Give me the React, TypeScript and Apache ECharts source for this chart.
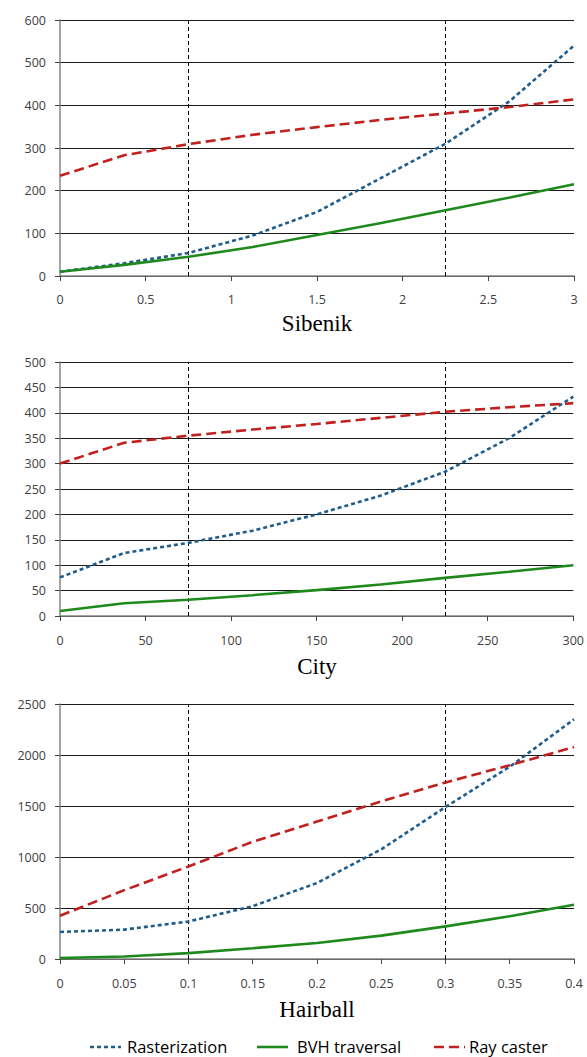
import React, { useEffect, useRef } from "react";
import * as echarts from "echarts";

const seriesNames = ["Rasterization", "BVH traversal", "Ray caster"];
const panelTitles = ["Sibenik", "City", "Hairball"];

const sibenikX = [0, 0.375, 0.75, 1.125, 1.5, 1.875, 2.25, 2.625, 3];
const sibenikRaster = [10, 30, 54, 95, 150, 230, 310, 410, 540];
const sibenikBVH = [10, 26, 45, 68, 96, 124, 154, 184, 215];
const sibenikRay = [235, 283, 309, 331, 349, 366, 381, 396, 414];
const sibenikMarks = [0.75, 2.25];

const cityX = [0, 37.5, 75, 112.5, 150, 187.5, 225, 262.5, 300];
const cityRaster = [76, 124, 144, 168, 200, 237, 284, 350, 432];
const cityBVH = [10, 25, 32, 41, 51, 62, 75, 87, 100];
const cityRay = [300, 341, 355, 367, 378, 390, 402, 411, 419];
const cityMarks = [75, 225];

const hairX = [0, 0.05, 0.1, 0.15, 0.2, 0.25, 0.3, 0.35, 0.4];
const hairRaster = [265, 288, 368, 518, 745, 1075, 1490, 1885, 2350];
const hairBVH = [10, 25, 58, 106, 157, 229, 320, 420, 532];
const hairRay = [424, 675, 907, 1150, 1348, 1545, 1731, 1900, 2078];
const hairMarks = [0.1, 0.3];

const xMax = [3, 300, 0.4];
const xInterval = [0.5, 50, 0.05];
const yMax = [600, 500, 2500];
const yInterval = [100, 50, 500];

const colors = ["#1d5c8c", "#1f8a1c", "#c0201e"];
const dashes: any[] = [[4, 3], "solid", [10, 5]];

const gridTops = [20, 362, 704];
const gridHeights = [256, 254, 255];
const titleTops = [312, 655, 998];
const labelMargins = [17, 18, 18];

const legendSymbolX = [90, 257, 434];
const legendTextX = [127, 297, 469];
const legendY = 1046;

const panels = [
  { x: sibenikX, ys: [sibenikRaster, sibenikBVH, sibenikRay], marks: sibenikMarks },
  { x: cityX, ys: [cityRaster, cityBVH, cityRay], marks: cityMarks },
  { x: hairX, ys: [hairRaster, hairBVH, hairRay], marks: hairMarks },
];

const labelFont = "'Open Sans', 'Liberation Sans', sans-serif";

export default function App() {
  const ref = useRef<HTMLDivElement>(null);
  useEffect(() => {
    document.body.style.margin = "0";
    if (!ref.current) return;
    const chart = echarts.init(ref.current, undefined, { renderer: "svg" });
    const grid: any[] = [];
    const xAxis: any[] = [];
    const yAxis: any[] = [];
    const series: any[] = [];
    const title: any[] = [];
    panels.forEach((p, i) => {
      grid.push({ left: 60, right: 13, top: gridTops[i], height: gridHeights[i] });
      xAxis.push({
        type: "value",
        gridIndex: i,
        min: 0,
        max: xMax[i],
        interval: xInterval[i],
        axisLine: { show: true, lineStyle: { color: "#868686", width: 1.5 } },
        axisTick: { show: true, length: 5, lineStyle: { color: "#444" } },
        splitLine: { show: false },
        axisLabel: {
          color: "#404040",
          fontFamily: labelFont,
          fontSize: 12.5,
          margin: labelMargins[i],
          showMaxLabel: true,
          formatter: (v: number) => String(Math.round(v * 1000) / 1000),
        },
      });
      yAxis.push({
        type: "value",
        gridIndex: i,
        min: 0,
        max: yMax[i],
        interval: yInterval[i],
        axisLine: { show: true, lineStyle: { color: "#868686", width: 1.5 } },
        axisTick: { show: true, length: 5, lineStyle: { color: "#444" } },
        splitLine: { show: true, lineStyle: { color: "#1a1a1a", width: 1 } },
        axisLabel: {
          color: "#404040",
          fontFamily: labelFont,
          fontSize: 12.5,
          margin: 14,
          formatter: (v: number) => String(v),
        },
      });
      title.push({
        text: panelTitles[i],
        left: 317,
        top: titleTops[i],
        textAlign: "center",
        padding: 0,
        textStyle: { fontFamily: "'Liberation Serif', 'Times New Roman', serif", fontSize: 23, fontWeight: "normal", color: "#000" },
      });
      p.ys.forEach((ys, k) => {
        const s: any = {
          name: seriesNames[k],
          type: "line",
          xAxisIndex: i,
          yAxisIndex: i,
          data: p.x.map((xv, j) => [xv, ys[j]]),
          symbol: "none",
          showSymbol: false,
          z: 3 + k,
          lineStyle: { color: colors[k], width: 2.6, type: dashes[k] },
          itemStyle: { color: colors[k] },
        };
        if (k === 0) {
          s.markLine = {
            silent: true,
            symbol: "none",
            label: { show: false },
            lineStyle: { color: "#000", width: 1, type: [4, 3] },
            data: p.marks.map((m) => ({ xAxis: m })),
            z: 2,
          };
        }
        series.push(s);
      });
    });
    const graphic: any[] = [];
    seriesNames.forEach((name, k) => {
      graphic.push({
        type: "line",
        shape: { x1: legendSymbolX[k], y1: legendY + 1, x2: legendSymbolX[k] + 31, y2: legendY + 1 },
        style: {
          stroke: colors[k],
          lineWidth: 2.6,
          lineDash: Array.isArray(dashes[k]) ? dashes[k] : null,
        },
      });
      graphic.push({
        type: "text",
        x: legendTextX[k],
        y: legendY,
        style: {
          text: name,
          fill: "#000",
          fontFamily: labelFont,
          fontSize: 16.5,
          verticalAlign: "middle",
          align: "left",
        },
      });
    });
    chart.setOption({
      animation: false,
      backgroundColor: "#fff",
      title,
      grid,
      xAxis,
      yAxis,
      series,
      graphic,
    });
    return () => chart.dispose();
  }, []);
  return <div ref={ref} style={{ width: 587, height: 1057 }} />;
}
